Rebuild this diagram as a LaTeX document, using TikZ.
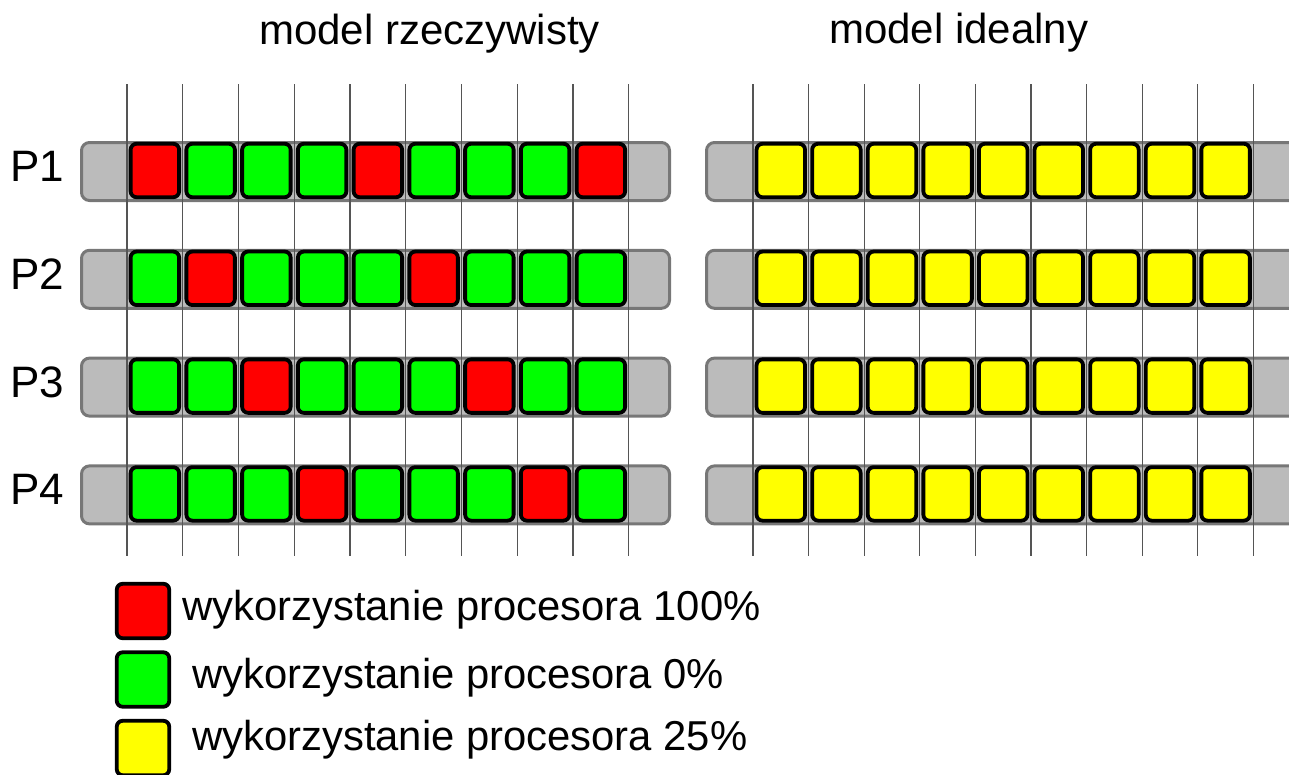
\documentclass[tikz,border=0pt]{standalone}
\usepackage{fontspec}
\setmainfont{Liberation Sans}
\definecolor{busy}{HTML}{FF0000}
\definecolor{idle}{HTML}{00FF00}
\definecolor{part}{HTML}{FFFF00}
\definecolor{barfill}{HTML}{BBBBBB}
\definecolor{barline}{HTML}{777777}
\definecolor{tickline}{HTML}{555555}
\begin{document}
\begin{tikzpicture}[x=1pt,y=-1pt,
  cell/.style={draw=black,line width=3.8pt,rounded corners=6pt,inner sep=0pt,
    minimum width=48.5pt,minimum height=53.5pt},
  bar/.style={draw=barline,fill=barfill,line width=3pt,rounded corners=8pt},
  tick/.style={draw=tickline,line width=1.2pt},
  title/.style={font=\fontsize{42}{50}\selectfont,anchor=base west,inner sep=0pt},
  proc/.style={font=\fontsize{44}{50}\selectfont,anchor=base,inner sep=0pt},
  legtext/.style={font=\fontsize{41.8}{48}\selectfont,anchor=base west,inner sep=0pt}]
\useasboundingbox (0,0) rectangle (1289,774);
\clip (0,0) rectangle (1289,774);

\node[title] (realTitle) at (259,44.5) {model rzeczywisty};
\node[title] (idealTitle) at (829,43.5) {model idealny};

% szare paski procesorow
\foreach \r in {1,...,4} {
  \pgfmathsetmacro{\yy}{171.5+107.8*(\r-1)}
  \path[bar] (81.5,\yy-29) rectangle (669.5,\yy+29);
  \path[bar] (706.5,\yy-29) rectangle (1330,\yy+29);
  \node[proc] (p\r) at (37,\yy+10) {P\r};
}

% linie czasu
\foreach \k in {0,...,9} {
  \path[tick] (127+55.75*\k,84) -- (127+55.75*\k,556);
  \path[tick] (753+55.6*\k,84) -- (753+55.6*\k,556);
}

% model rzeczywisty i idealny
\foreach \r/\list in {1/{busy,idle,idle,idle,busy,idle,idle,idle,busy},
                      2/{idle,busy,idle,idle,idle,busy,idle,idle,idle},
                      3/{idle,idle,busy,idle,idle,idle,busy,idle,idle},
                      4/{idle,idle,idle,busy,idle,idle,idle,busy,idle}} {
  \pgfmathsetmacro{\yy}{170.5+107.8*(\r-1)}
  \foreach \c [count=\k] in \list {
    \node[cell,fill=\c] (L\r-\k) at (127+55.75*\k-27.875,\yy) {};
    \node[cell,fill=part] (R\r-\k) at (753+55.6*\k-27.8,\yy) {};
  }
}

% legenda
\node[cell,fill=busy,minimum width=52.5pt,minimum height=54.5pt] (legBusy) at (143,611) {};
\node[cell,fill=idle,minimum width=52.5pt,minimum height=54.5pt] (legIdle) at (143,679.5) {};
\node[cell,fill=part,minimum width=52.5pt,minimum height=54.5pt] (legPart) at (143,748) {};
\node[legtext] (legBusyTxt) at (182,620.7) {wykorzystanie procesora 100\%};
\node[legtext] (legIdleTxt) at (192,688) {wykorzystanie procesora 0\%};
\node[legtext] (legPartTxt) at (192,750) {wykorzystanie procesora 25\%};
\end{tikzpicture}
\end{document}
